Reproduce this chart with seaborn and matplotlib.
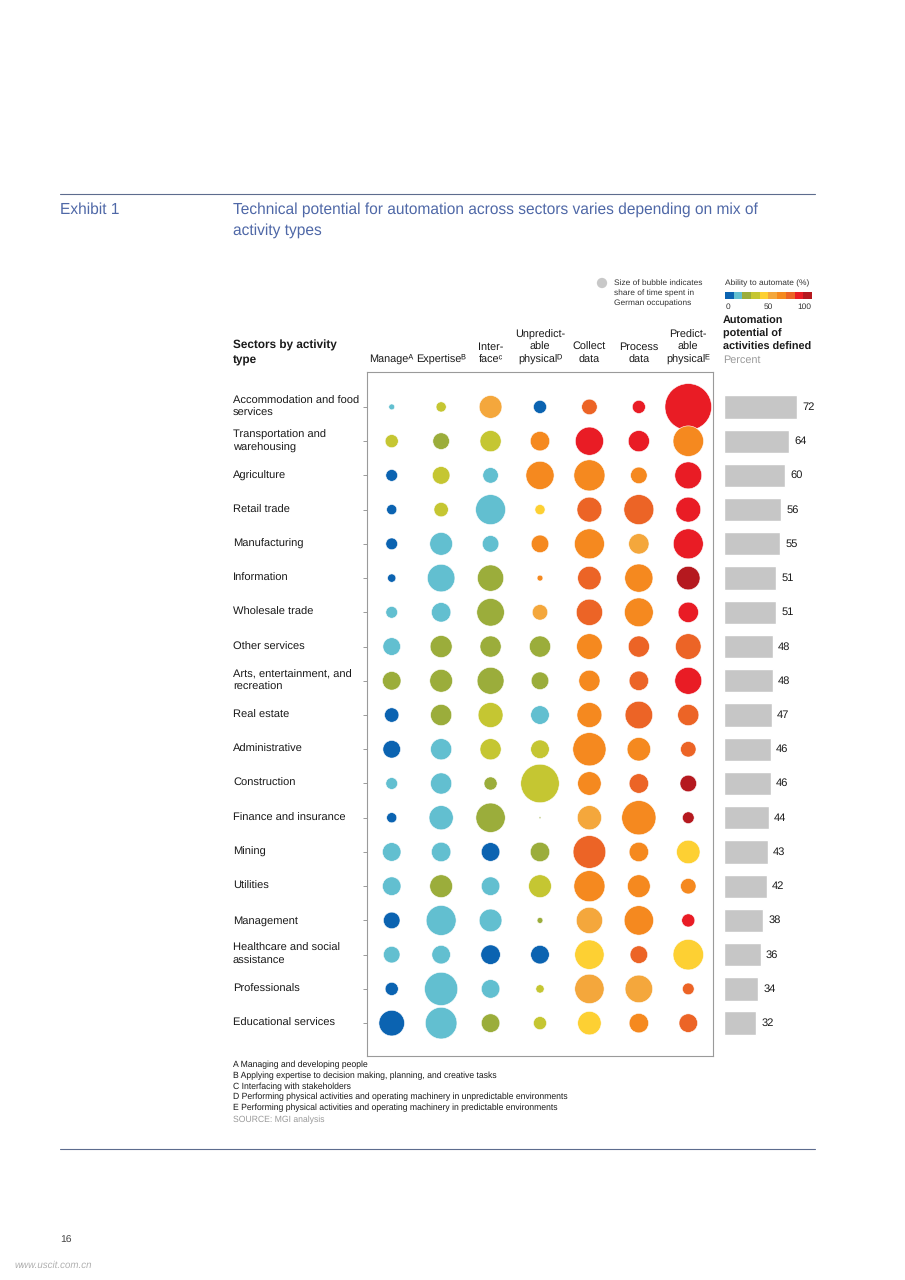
import numpy as np
import pandas as pd
import seaborn as sns
import matplotlib.pyplot as plt
from matplotlib.colors import ListedColormap
from matplotlib.transforms import blended_transform_factory

sectors = [
    "Accommodation and food\nservices", "Transportation and\nwarehousing", "Agriculture",
    "Retail trade", "Manufacturing", "Information", "Wholesale trade", "Other services",
    "Arts, entertainment, and\nrecreation", "Real estate", "Administrative", "Construction",
    "Finance and insurance", "Mining", "Utilities", "Management",
    "Healthcare and social\nassistance", "Professionals", "Educational services",
]
activities = ["Manage", "Expertise", "Interface", "Unpredictable physical",
              "Collect data", "Process data", "Predictable physical"]
activity_headers = [
    "Manage\u1d2c", "Expertise\u1d2e", "Inter-\nface\u1d9c",
    "Unpredict-\nable\nphysical\u1d30", "Collect\ndata", "Process\ndata",
    "Predict-\nable\nphysical\u1d31",
]

# share of time spent (%), one row per sector, columns in activity order
time_share = [
    [1, 3, 15, 5, 7, 5, 63],
    [5, 8, 13, 11, 23, 13, 27],
    [4, 9, 7, 23, 28, 8, 21],
    [3, 6, 26, 3, 18, 26, 18],
    [4, 15, 8, 9, 26, 12, 26],
    [2, 22, 20, 1, 16, 23, 16],
    [4, 11, 22, 7, 20, 24, 12],
    [9, 14, 13, 13, 19, 13, 19],
    [10, 15, 21, 9, 13, 11, 21],
    [6, 13, 18, 10, 18, 22, 13],
    [9, 13, 13, 10, 32, 16, 7],
    [4, 13, 5, 43, 16, 11, 8],
    [3, 17, 25, 0.1, 17, 34, 4],
    [10, 11, 10, 11, 31, 11, 16],
    [10, 15, 10, 15, 28, 15, 7],
    [8, 26, 15, 1, 20, 25, 5],
    [8, 10, 11, 10, 25, 9, 27],
    [5, 32, 10, 2, 25, 22, 4],
    [19, 29, 10, 5, 16, 11, 10],
]

# ability to automate (%), binned to the 10 colour steps of the scale
ability = [
    [15, 35, 55, 5, 75, 85, 85],
    [35, 25, 35, 65, 85, 85, 65],
    [5, 35, 15, 65, 65, 65, 85],
    [5, 35, 15, 45, 75, 75, 85],
    [5, 15, 15, 65, 65, 55, 85],
    [5, 15, 25, 65, 75, 65, 95],
    [15, 15, 25, 55, 75, 65, 85],
    [15, 25, 25, 25, 65, 75, 75],
    [25, 25, 25, 25, 65, 75, 85],
    [5, 25, 35, 15, 65, 75, 75],
    [5, 15, 35, 35, 65, 65, 75],
    [15, 15, 25, 35, 65, 75, 95],
    [5, 15, 25, 25, 55, 65, 95],
    [15, 15, 5, 25, 75, 65, 45],
    [15, 25, 15, 35, 65, 65, 65],
    [5, 15, 15, 25, 55, 65, 85],
    [15, 15, 5, 5, 45, 75, 45],
    [5, 15, 15, 35, 55, 55, 75],
    [5, 15, 25, 35, 45, 65, 75],
]

automation_potential = [72, 64, 60, 56, 55, 51, 51, 48, 48, 47, 46, 46, 44, 43, 42, 38, 36, 34, 32]

footnotes = [
    "A Managing and developing people",
    "B Applying expertise to decision making, planning, and creative tasks",
    "C Interfacing with stakeholders",
    "D Performing physical activities and operating machinery in unpredictable environments",
    "E Performing physical activities and operating machinery in predictable environments",
]

scale_colors = ["#0b63b1", "#62bfd0", "#9bad3b", "#c5c632", "#fdd033",
                "#f4a73c", "#f5891f", "#ec6426", "#e91c25", "#b5191f"]
scale_levels = [5, 15, 25, 35, 45, 55, 65, 75, 85, 95]

# --- figure setup ---
sns.set_style("white")
plt.rcParams["font.family"] = ["Liberation Sans", "DejaVu Sans"]
plt.rcParams["text.hinting"] = "no_hinting"

W, H = 905, 1280
fig = plt.figure(figsize=(W / 100, H / 100), dpi=100, facecolor="white")


def box(x0, y0, x1, y1):
    return [x0 / W, 1 - y1 / H, (x1 - x0) / W, (y1 - y0) / H]


def fx(x):
    return x / W


def fy(y):
    return 1 - y / H


title_color = "#4f68a7"
rule_color = "#5d6c8e"
text_dark = "#1a1a1a"

fig.add_artist(plt.Line2D([fx(60), fx(815)], [fy(194), fy(194)], color=rule_color, lw=0.8))
fig.add_artist(plt.Line2D([fx(60), fx(815)], [fy(1149), fy(1149)], color=rule_color, lw=0.8))
fig.text(fx(60), fy(210), "Exhibit 1", color=title_color, fontsize=11.2, va="center")
fig.text(fx(233), fy(210), "Technical potential for automation across sectors varies depending on mix of",
         color=title_color, fontsize=11.2, va="center")
fig.text(fx(233), fy(231), "activity types", color=title_color, fontsize=11.2, va="center")

# --- bubbles ---
rows = []
for i, sector in enumerate(sectors):
    for j, act in enumerate(activities):
        rows.append({"sector": sector, "activity": act, "row": i, "col": j,
                     "share": time_share[i][j], "ability": ability[i][j]})
df = pd.DataFrame(rows)

max_share = 63
ax = fig.add_axes(box(367, 372, 713, 1056))
sns.scatterplot(data=df, x="col", y="row", hue="ability", size="share",
                palette=dict(zip(scale_levels, scale_colors)),
                sizes=(0, 17.9 * max_share), size_norm=(0, max_share),
                edgecolor="white", linewidth=0.4, legend=False, ax=ax)
ax.set_xlim(-0.5, 6.5)
ax.set_ylim(18.96, -1.02)
ax.set_xlabel("")
ax.set_ylabel("")
ax.set_xticks([])
ax.set_yticks(range(len(sectors)))
ax.set_yticklabels([])
ax.tick_params(axis="y", length=3, color="#8a8a8a", width=0.6, direction="out", left=True)
for sp in ax.spines.values():
    sp.set_color("#9a9a9a")
    sp.set_linewidth(0.8)

trans = blended_transform_factory(fig.transFigure, ax.transData)
for i, sector in enumerate(sectors):
    ax.text(fx(233), i, sector, transform=trans, ha="left", va="center",
            fontsize=8, color=text_dark, linespacing=1.3)

# column headers
ht = blended_transform_factory(ax.transData, fig.transFigure)
for j, lab in enumerate(activity_headers):
    ax.text(j, fy(365), lab, transform=ht, ha="center", va="bottom",
            fontsize=7.8, color=text_dark, linespacing=1.3, multialignment="center")

fig.text(fx(233), fy(345), "Sectors by activity", fontsize=8.5, fontweight="bold", va="center", color=text_dark)
fig.text(fx(233), fy(360), "type", fontsize=8.5, fontweight="bold", va="center", color=text_dark)

# --- bars ---
bx = fig.add_axes(box(724, 372, 814, 1056))
sns.barplot(x=automation_potential, y=list(range(len(sectors))), orient="h",
            color="#c6c6c6", width=0.68, saturation=1, ax=bx)
bx.set_ylim(18.96, -1.02)
bx.set_xlim(0, 90 / 1.014)
bx.bar_label(bx.containers[0], labels=[str(v) for v in automation_potential],
             padding=4, fontsize=8, color=text_dark)
bx.axis("off")

for k, line in enumerate(["Automation", "potential of", "activities defined"]):
    fig.text(fx(723), fy(321 + k * 13), line, fontsize=7.8, fontweight="bold", va="center", color=text_dark)
fig.text(fx(723), fy(360), "Percent", fontsize=7.8, va="center", color="#9a9a9a")

# --- legends ---
lg = fig.add_axes(box(592, 276, 612, 290))
lg.scatter([0], [0], s=55, color="#c8c8c8", edgecolor="none")
lg.set_xlim(-1, 1)
lg.set_ylim(-1, 1)
lg.axis("off")
for k, line in enumerate(["Size of bubble indicates", "share of time spent in", "German occupations"]):
    fig.text(fx(614), fy(283 + k * 10), line, fontsize=6, va="center", color="#333333")

fig.text(fx(725), fy(283), "Ability to automate (%)", fontsize=6, va="center", color="#333333")
cb = fig.add_axes(box(725, 292, 811, 299))
cb.imshow(np.arange(len(scale_colors))[None, :], cmap=ListedColormap(scale_colors), aspect="auto")
cb.axis("off")
fig.text(fx(726), fy(307), "0", fontsize=6, va="center", ha="left", color="#333333")
fig.text(fx(768), fy(307), "50", fontsize=6, va="center", ha="center", color="#333333")
fig.text(fx(811), fy(307), "100", fontsize=6, va="center", ha="right", color="#333333")

# --- footnotes ---
for k, note in enumerate(footnotes):
    fig.text(fx(233), fy(1065 + k * 10.7), note, fontsize=6.2, va="center", color=text_dark)
fig.text(fx(233), fy(1120), "SOURCE: MGI analysis", fontsize=6.2, va="center", color="#9a9a9a")

fig.text(fx(60), fy(1240), "16", fontsize=7.5, va="center", color="#444444")
fig.text(fx(15), fy(1265), "www.uscit.com.cn", fontsize=7, va="center", color="#b0b0b0", style="italic")

fig.savefig("out.png", dpi=100, facecolor="white")
plt.close(fig)
